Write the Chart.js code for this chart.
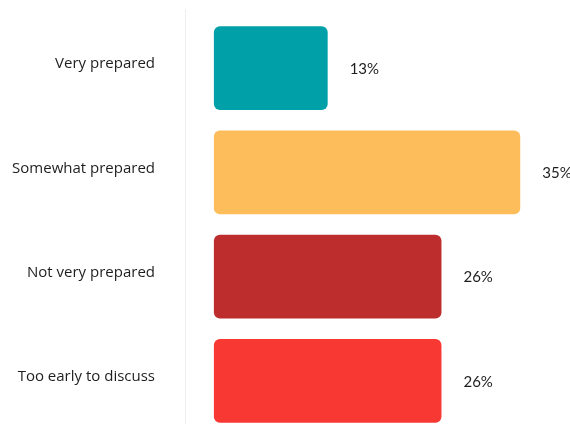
<!DOCTYPE html>
<html>
<head>
<meta charset="utf-8">
<script src="https://cdn.jsdelivr.net/npm/chart.js@4.4.0/dist/chart.umd.min.js"></script>
<style>
  html, body { margin: 0; padding: 0; background: #fff; overflow: hidden; }
  canvas { display: block; }
</style>
</head>
<body>
<canvas id="prep" width="570" height="440"></canvas>
<script>
// data
var labels = ['Very prepared', 'Somewhat prepared', 'Not very prepared', 'Too early to discuss'];
var values = [13, 35, 26, 26];
var colors = ['#00A0A8', '#FDBD5B', '#BE2D2E', '#F83833'];

// faint line left of the bars + value labels
var extras = {
    id: 'extras',
    beforeDatasetsDraw: function (chart) {
        var c = chart.ctx, a = chart.chartArea;
        c.save();
        c.strokeStyle = '#eeeeee';
        c.lineWidth = 1;
        c.beginPath();
        c.moveTo(Math.round(a.left) + 0.5, 9);
        c.lineTo(Math.round(a.left) + 0.5, chart.height);
        c.stroke();
        c.restore();
    },
    afterDatasetsDraw: function (chart) {
        var c = chart.ctx;
        var meta = chart.getDatasetMeta(0);
        c.save();
        c.font = '15px Lato';
        c.fillStyle = '#1e1e1e';
        c.textBaseline = 'middle';
        c.textAlign = 'left';
        meta.data.forEach(function (bar, i) {
            c.fillText(values[i] + '%', bar.x + 22, bar.y + 1);
        });
        c.restore();
    }
};

var ctx = document.getElementById('prep').getContext('2d');
var chart = new Chart(ctx, {
    type: 'bar',
    data: {
        labels: labels,
        datasets: [{
            data: values,
            backgroundColor: colors,
            borderRadius: 6,
            borderSkipped: false,
            categoryPercentage: 1,
            barPercentage: 0.805
        }]
    },
    options: {
        indexAxis: 'y',
        responsive: false,
        animation: false,
        layout: { padding: { top: 16, bottom: 7, left: 0, right: 6 } },
        plugins: {
            legend: { display: false },
            tooltip: { enabled: false }
        },
        scales: {
            x: {
                display: false,
                min: -3.3,
                max: 40
            },
            y: {
                grid: { display: false, drawTicks: false },
                border: { display: false },
                afterFit: function (s) {
                    s.width = 185;
                    s.paddingTop = 0;
                    s.paddingBottom = 0;
                },
                ticks: {
                    padding: 30,
                    labelOffset: -4,
                    color: '#1e1e1e',
                    font: { family: 'Open Sans', size: 15 }
                }
            }
        }
    },
    plugins: [extras]
});
</script>
</body>
</html>
